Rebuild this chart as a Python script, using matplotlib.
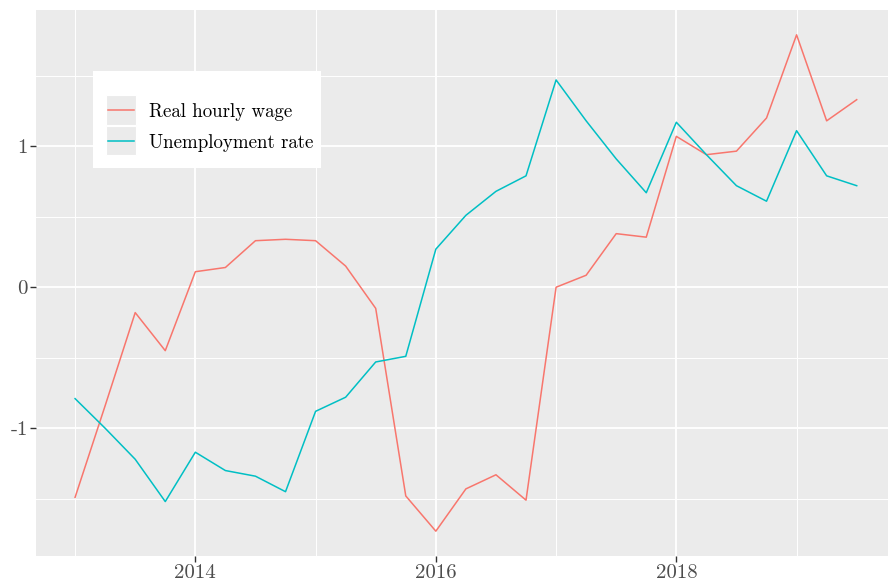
import matplotlib.pyplot as plt
from matplotlib.lines import Line2D
from matplotlib.patches import Rectangle

plt.rcParams['font.family'] = ['cmr10', 'DejaVu Serif']
plt.rcParams['axes.unicode_minus'] = False
plt.rcParams['mathtext.fontset'] = 'cm'

quarters = [2013 + 0.25 * i for i in range(27)]

wage = [-1.49, -0.84, -0.18, -0.45, 0.11, 0.14, 0.33, 0.34, 0.33, 0.15,
        -0.15, -1.48, -1.73, -1.43, -1.33, -1.51, 0.00, 0.085, 0.38, 0.355,
        1.07, 0.94, 0.965, 1.20, 1.79, 1.18, 1.33]

unemp = [-0.79, -1.00, -1.22, -1.52, -1.17, -1.30, -1.34, -1.45, -0.88, -0.78,
         -0.53, -0.49, 0.27, 0.51, 0.68, 0.79, 1.47, 1.18, 0.91, 0.67,
         1.17, 0.94, 0.72, 0.61, 1.11, 0.79, 0.72]

series_names = ['Real hourly wage', 'Unemployment rate']
series_colors = ['#F8766D', '#00BFC4']

xticks = [2014, 2016, 2018]
xminor = [2013, 2015, 2017, 2019]
yticks = [-1, 0, 1]
yminor = [-1.5, -0.5, 0.5, 1.5]

W, H = 888, 582
fig = plt.figure(figsize=(W / 100, H / 100), dpi=100)
ax = fig.add_axes([36 / W, 26 / H, 852 / W, 546 / H])
ax.set_facecolor('#EBEBEB')

ax.plot(quarters, wage, color=series_colors[0], lw=1.1)
ax.plot(quarters, unemp, color=series_colors[1], lw=1.1)

lo = min(min(wage), min(unemp))
hi = max(max(wage), max(unemp))
pad = (hi - lo) * 0.05
ax.set_ylim(lo - pad, hi + pad)
xpad = (quarters[-1] - quarters[0]) * 0.05
ax.set_xlim(quarters[0] - xpad, quarters[0] - xpad + 852 / 120.25)

ax.set_xticks(xticks)
ax.set_xticklabels([str(t) for t in xticks])
ax.set_xticks(xminor, minor=True)
ax.set_yticks(yticks)
ax.set_yticklabels([str(t) for t in yticks])
ax.set_yticks(yminor, minor=True)

ax.grid(which='major', color='white', lw=1.3)
ax.grid(which='minor', color='white', lw=0.7)
ax.set_axisbelow(True)
for s in ax.spines.values():
    s.set_visible(False)
ax.tick_params(which='major', length=4, width=1, color='#333333',
               labelcolor='#4D4D4D', labelsize=15, pad=2)
ax.tick_params(which='minor', length=0)


# legend drawn by hand in pixel coordinates (top-left origin)
def px(x, y):
    return x / W, 1 - y / H


x0, y0 = px(93, 168)
fig.patches.append(Rectangle((x0, y0), 228 / W, 97 / H, transform=fig.transFigure,
                             facecolor='white', edgecolor='none', zorder=5))
row_y = [110, 141]
for name, col, yc in zip(series_names, series_colors, row_y):
    bx, by = px(106, yc + 14.5)
    fig.patches.append(Rectangle((bx, by), 30 / W, 29 / H, transform=fig.transFigure,
                                 facecolor='#EBEBEB', edgecolor='white', lw=0.8, zorder=6))
    lx1, ly = px(108, yc)
    lx2, _ = px(134, yc)
    fig.lines.append(Line2D([lx1, lx2], [ly, ly], transform=fig.transFigure,
                            color=col, lw=1.1, zorder=7))
    tx, ty = px(149, yc + 2)
    fig.text(tx, ty, name, fontsize=13.6, color='black', va='center', ha='left', zorder=7)

fig.savefig('out.png', dpi=100)
